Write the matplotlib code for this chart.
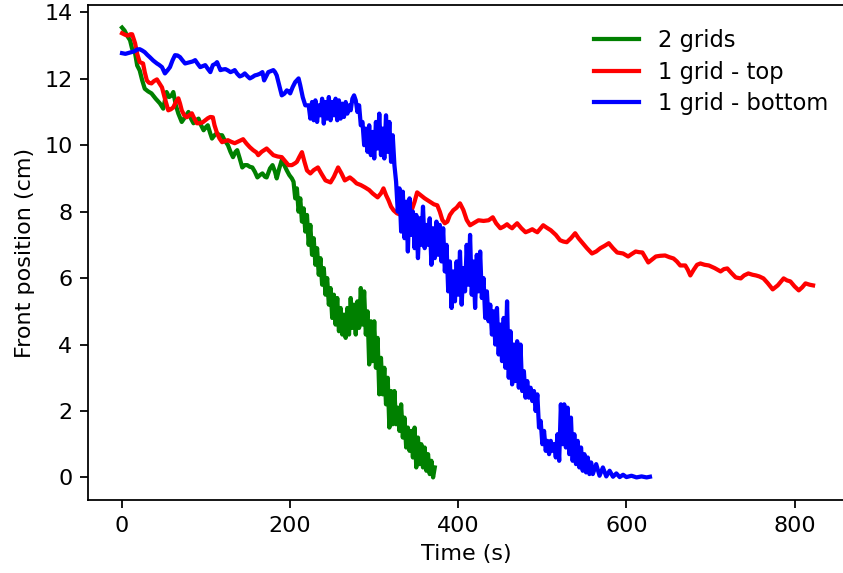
import numpy as np
import matplotlib
matplotlib.use("Agg")
import matplotlib.pyplot as plt

# 2 grids: smooth start, then noisy part sampled every 2 s from t=204
green_t_start = [0, 3, 6, 9.5, 12, 15.5, 18, 21, 24, 27, 31, 35, 40, 45, 49, 53, 56, 59,
                 61, 64, 67, 71, 75, 79, 82, 85, 88, 91, 94, 97, 100, 102, 105, 107, 110,
                 113, 116, 119, 122, 126, 129, 132, 135, 137, 140, 143, 146, 149, 152, 155,
                 158, 161, 164, 167, 170, 172, 176, 179, 182, 184, 187, 190, 193, 196, 199, 202]
green_y_start = [13.54, 13.45, 13.3, 13.16, 12.9, 12.77, 12.4, 12.25, 11.95, 11.7, 11.62,
                 11.56, 11.4, 11.26, 11.1, 11.6, 11.45, 11.5, 11.6, 11.2, 10.95, 10.7, 10.85,
                 11.0, 10.8, 10.66, 10.75, 10.8, 10.6, 10.45, 10.55, 10.6, 10.35, 10.2, 10.3,
                 10.36, 10.3, 10.3, 10.15, 10.0, 9.8, 9.64, 9.8, 9.85, 9.6, 9.33, 9.4, 9.4,
                 9.35, 9.33, 9.2, 9.03, 9.1, 9.15, 9.05, 9.03, 9.3, 9.4, 9.2, 9.0, 9.3, 9.55,
                 9.4, 9.24, 9.1, 9.0]
green_y_noisy = [8.9, 8.4, 8.7, 8.0, 8.4, 7.7, 8.1, 7.4, 7.9, 7.0, 7.6, 6.7, 7.2, 6.4, 6.9,
                 6.1, 6.6, 5.8, 6.3, 5.5, 6.0, 5.2, 5.7, 4.8, 5.5, 4.6, 5.4, 4.4, 5.1, 4.3,
                 4.9, 4.2, 5.1, 4.3, 5.4, 4.5, 5.2, 4.3, 5.3, 4.5, 5.7, 4.6, 5.6, 4.3, 5.0,
                 3.4, 4.7, 3.5, 4.7, 3.3, 4.2, 2.5, 3.6, 2.5, 3.3, 2.2, 3.0, 1.5, 2.6, 1.6,
                 2.6, 1.6, 2.1, 1.4, 2.2, 1.2, 1.8, 0.9, 1.5, 0.8, 1.4, 0.6, 1.5, 0.3, 1.2,
                 0.4, 1.0, 0.3, 0.9, 0.2, 0.7, 0.1, 0.5, 0.0, 0.3]

# 1 grid - top
red_t = [0, 4, 7, 10, 12, 15.5, 18, 21, 25, 27, 29.5, 32, 35, 38, 41.5, 44, 47.5, 51, 55,
         58, 61, 64, 67, 69, 71, 74, 77, 80, 83, 86, 89, 92, 96, 99, 102, 105, 108, 110,
         113, 116, 119, 122, 126, 130, 134, 139, 144, 148, 152, 156, 160, 162, 166, 172,
         176, 180, 185, 190, 193, 196, 198, 202, 206, 208, 211, 214, 217, 220, 224, 228,
         233, 237, 242, 248, 252, 257, 261, 265, 271, 275, 279, 284, 289, 294, 298, 304,
         308, 311, 314, 317, 320, 323, 327, 332, 338, 344, 348, 351, 355, 360, 363, 367,
         371, 375, 378, 381, 384, 387, 390, 394, 398, 402, 406, 410, 414, 418, 424, 430,
         436, 441, 445, 450, 454, 458, 461, 464, 467, 470, 475, 480, 484, 488, 491, 494,
         498, 501, 505, 510, 516, 521, 525, 529, 534, 539, 543, 547, 553, 559, 564, 569,
         574, 579, 584, 589, 596, 602, 606, 611, 615, 619, 623, 626, 630, 635, 640, 646,
         651, 656, 660, 664, 670, 673, 676, 680, 684, 688, 693, 698, 705, 712, 716, 720,
         725, 730, 736, 740, 745, 750, 754, 758, 763, 768, 774, 777, 780, 784, 787, 791,
         795, 800, 805, 809, 813, 818, 822]
red_y = [13.37, 13.32, 13.3, 13.34, 13.34, 13.07, 12.75, 12.5, 12.46, 12.2, 11.95, 11.88,
         11.86, 11.93, 11.98, 11.88, 11.74, 11.4, 11.05, 11.08, 11.14, 11.3, 11.41, 11.25,
         11.05, 10.9, 10.84, 10.9, 10.96, 10.8, 10.66, 10.66, 10.69, 10.75, 10.81, 10.85,
         10.84, 10.6, 10.36, 10.2, 10.09, 10.12, 10.15, 10.1, 10.06, 10.12, 10.18, 10.05,
         9.94, 9.85, 9.78, 9.7, 9.8, 9.9, 9.8, 9.7, 9.66, 9.64, 9.55, 9.46, 9.4, 9.4, 9.46,
         9.5, 9.65, 9.79, 9.5, 9.24, 9.15, 9.25, 9.33, 9.15, 8.94, 8.88, 9.05, 9.33, 9.15,
         8.94, 9.03, 8.95, 8.85, 8.8, 8.73, 8.65, 8.55, 8.43, 8.55, 8.7, 8.5, 8.34, 8.15,
         8.04, 7.95, 7.9, 7.95, 8.0, 8.3, 8.58, 8.5, 8.4, 8.35, 8.28, 8.22, 8.19, 8.0, 7.75,
         7.65, 7.7, 7.9, 8.04, 8.12, 8.25, 8.05, 7.75, 7.59, 7.65, 7.74, 7.72, 7.74, 7.83,
         7.65, 7.5, 7.55, 7.62, 7.55, 7.5, 7.58, 7.65, 7.5, 7.38, 7.42, 7.47, 7.42, 7.38,
         7.5, 7.59, 7.52, 7.44, 7.3, 7.14, 7.1, 7.08, 7.2, 7.35, 7.2, 7.08, 6.9, 6.74, 6.8,
         6.9, 6.97, 7.05, 6.9, 6.77, 6.74, 6.65, 6.72, 6.8, 6.78, 6.77, 6.6, 6.47, 6.55,
         6.65, 6.67, 6.68, 6.63, 6.59, 6.5, 6.38, 6.38, 6.25, 6.08, 6.25, 6.4, 6.44, 6.4,
         6.38, 6.3, 6.2, 6.27, 6.29, 6.15, 6.02, 5.99, 6.08, 6.14, 6.1, 6.08, 6.05, 5.99,
         5.85, 5.66, 5.72, 5.78, 5.9, 5.99, 5.93, 5.9, 5.75, 5.63, 5.72, 5.84, 5.8, 5.78]

# 1 grid - bottom: smooth start, noisy part every 2 s from t=222, slow tail
blue_t_start = [0, 4, 7, 11, 15, 18, 21, 24, 27, 30, 33, 37, 41.5, 44, 47.5, 51, 54, 57, 60,
                63, 66, 69, 72, 75, 78, 81, 84, 87, 90, 93, 96, 99, 102, 105, 108, 111, 113,
                115, 117, 120, 123, 126, 129, 132, 134, 137, 140, 143, 146, 149, 152, 155,
                158, 161, 164, 167, 169, 170, 172, 174, 177, 180, 182, 184, 187, 190, 193,
                196, 198, 200, 203, 206, 210, 212, 215, 218]
blue_y_start = [12.77, 12.75, 12.77, 12.8, 12.83, 12.88, 12.89, 12.85, 12.8, 12.72, 12.65,
                12.55, 12.46, 12.42, 12.35, 12.16, 12.25, 12.35, 12.55, 12.71, 12.7, 12.65,
                12.55, 12.46, 12.48, 12.5, 12.52, 12.56, 12.45, 12.35, 12.38, 12.41, 12.3,
                12.2, 12.41, 12.45, 12.5, 12.38, 12.26, 12.28, 12.29, 12.25, 12.2, 12.23,
                12.26, 12.15, 12.07, 12.1, 12.16, 12.08, 12.01, 12.05, 12.1, 12.12, 12.15,
                12.2, 11.95, 12.0, 12.1, 12.2, 12.23, 12.26, 12.2, 12.1, 11.8, 11.5, 11.55,
                11.65, 11.62, 11.56, 11.75, 11.9, 12.01, 11.8, 11.44, 11.2]
blue_y_noisy = [11.2, 10.8, 11.3, 10.75, 11.35, 10.7, 11.2, 10.9, 11.4, 10.65, 11.3, 10.8,
                11.45, 10.75, 11.3, 10.9, 11.4, 10.75, 11.35, 10.8, 11.25, 10.85, 11.3, 10.95,
                11.2, 11.05, 11.4, 11.5, 11.35, 11.0, 11.2, 10.6, 10.7, 10.0, 10.5, 9.8, 10.6,
                9.7, 10.4, 9.6, 10.7, 9.9, 10.95, 9.7, 10.5, 9.6, 10.9, 9.8, 10.7, 9.5, 10.3,
                9.4, 8.9, 8.0, 8.7, 7.4, 8.6, 7.2, 8.3, 6.8, 8.4, 7.3, 8.0, 6.9, 7.9, 6.6, 7.8,
                7.0, 8.15, 6.9, 7.6, 7.0, 7.8, 6.4, 7.5, 6.6, 7.7, 6.7, 7.6, 6.5, 7.5, 6.2,
                7.0, 5.6, 6.5, 5.1, 6.2, 5.3, 6.5, 5.5, 6.8, 5.2, 6.3, 5.6, 7.0, 5.8, 7.3, 5.5,
                6.5, 5.1, 6.7, 5.6, 6.8, 5.4, 6.0, 4.8, 5.6, 4.7, 5.2, 4.3, 5.0, 4.0, 5.1, 3.7,
                4.6, 3.5, 4.8, 3.3, 5.3, 3.0, 4.4, 2.8, 4.0, 2.9, 4.1, 2.7, 4.0, 2.6, 3.2, 2.4,
                2.9, 2.4, 2.7, 2.3, 2.6, 2.0, 2.5, 1.5, 1.7, 1.0, 1.4, 0.8, 1.1, 0.7, 1.1, 0.8,
                1.0, 0.6, 1.3, 0.5, 2.2, 1.0, 2.2, 0.9, 2.1, 0.7, 1.8, 0.5, 1.3, 0.4, 1.1, 0.3,
                0.9, 0.2, 0.7, 0.15, 0.6, 0.1, 0.45, 0.1]
blue_t_tail = [564, 568, 572, 576, 580, 584, 588, 592, 596, 600, 606, 612, 618, 624, 628]
blue_y_tail = [0.4, 0.05, 0.3, 0.03, 0.2, 0.02, 0.12, 0.01, 0.08, 0.01, 0.05, 0.0, 0.03, 0.0, 0.02]

green_t = np.concatenate([green_t_start, 204 + 2 * np.arange(len(green_y_noisy))])
green_y = np.concatenate([green_y_start, green_y_noisy])
blue_t = np.concatenate([blue_t_start, 222 + 2 * np.arange(len(blue_y_noisy)), blue_t_tail])
blue_y = np.concatenate([blue_y_start, blue_y_noisy, blue_y_tail])

fig = plt.figure(figsize=(843 / 160, 573 / 160), dpi=160)
ax = fig.add_axes([88 / 843, 73 / 573, 757 / 843, 495 / 573])

ax.plot(green_t, green_y, color="green", lw=1.9, label="2 grids")
ax.plot(red_t, red_y, color="red", lw=1.9, label="1 grid - top")
ax.plot(blue_t, blue_y, color="blue", lw=1.9, label="1 grid - bottom")

ax.set_xlim(-40.5, 860)
ax.set_ylim(-0.68, 14.22)
ax.set_xticks([0, 200, 400, 600, 800])
ax.set_yticks([0, 2, 4, 6, 8, 10, 12, 14])
ax.set_xlabel("Time (s)")
ax.set_ylabel("Front position (cm)")
ax.legend(frameon=False, loc="upper left", bbox_to_anchor=(585 / 843, 1 - 20 / 573),
          bbox_transform=fig.transFigure, borderaxespad=0, fontsize=10.2,
          labelspacing=0.38)

fig.savefig("out.png", dpi=160)
